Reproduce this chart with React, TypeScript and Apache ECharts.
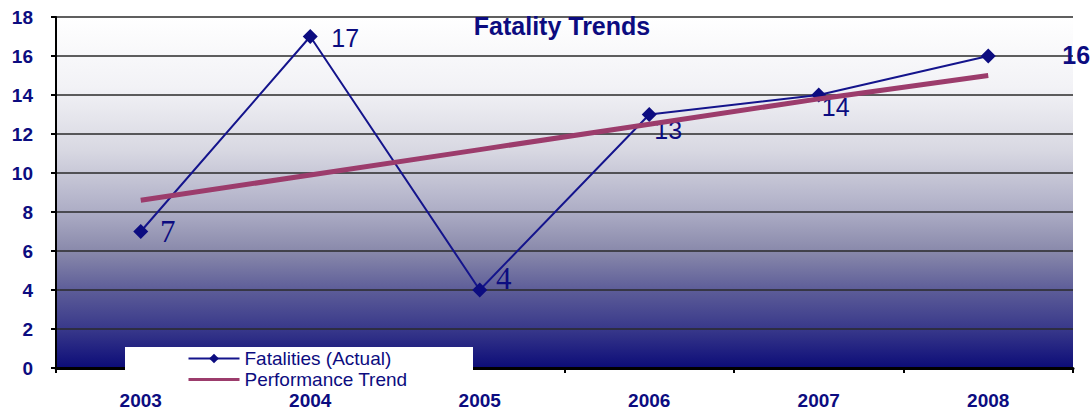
import React, { useEffect, useRef } from "react";
import * as echarts from "echarts";

const years = ["2003", "2004", "2005", "2006", "2007", "2008"];
const fatalities = [7, 17, 4, 13, 14, 16];
const trend = [8.6, 9.9, 11.2, 12.5, 13.8, 15.0];
const yTicks = { min: 0, max: 18, interval: 2 };
const titleText = "Fatality Trends";
const seriesNames = ["Fatalities (Actual)", "Performance Trend"];

const NAVY = "#0c0c80";

// label placement styles per point (offsets relative to the point)
const labelStyles = [
  { offset: [27, 0], fontFamily: "Liberation Serif", fontSize: 31, fontWeight: "normal" },
  { offset: [35, 1], fontFamily: "Liberation Sans", fontSize: 25, fontWeight: "normal" },
  { offset: [24, -12], fontFamily: "Liberation Serif", fontSize: 31, fontWeight: "normal" },
  { offset: [19, 15], fontFamily: "Liberation Sans", fontSize: 25, fontWeight: "normal" },
  { offset: [17, 12], fontFamily: "Liberation Sans", fontSize: 25, fontWeight: "normal" },
  { offset: [88, -1], fontFamily: "Liberation Sans", fontSize: 25, fontWeight: "bold" },
];

export default function App() {
  const ref = useRef<HTMLDivElement>(null);
  useEffect(() => {
    if (!ref.current) return;
    const chart = echarts.init(ref.current, null, { renderer: "svg" });
    chart.setOption({
      animation: false,
      backgroundColor: "#ffffff",
      title: {
        text: titleText,
        left: 557,
        textAlign: "center",
        top: 8,
        textStyle: {
          color: NAVY,
          fontFamily: "Liberation Sans",
          fontWeight: "bold",
          fontSize: 25,
        },
      },
      grid: {
        left: 56,
        right: 19,
        top: 17,
        bottom: 48,
        show: true,
        borderWidth: 0,
        backgroundColor: {
          type: "linear",
          x: 0,
          y: 0,
          x2: 0,
          y2: 1,
          colorStops: [
            { offset: 0, color: "#ffffff" },
            { offset: 0.2, color: "#f2f2f6" },
            { offset: 0.38, color: "#d8d8e2" },
            { offset: 0.55, color: "#aeaec6" },
            { offset: 0.67, color: "#8888aa" },
            { offset: 0.78, color: "#5c5c98" },
            { offset: 0.89, color: "#38388a" },
            { offset: 1, color: "#0c0c78" },
          ],
        },
      },
      legend: {
        orient: "vertical",
        left: 187,
        top: 348,
        padding: 0,
        itemGap: 0,
        itemWidth: 51,
        itemHeight: 12,
        z: 60,
        textStyle: {
          color: NAVY,
          fontFamily: "Liberation Sans",
          fontSize: 19,
          lineHeight: 21,
        },
        data: [
          { name: seriesNames[0] },
          { name: seriesNames[1], itemStyle: { opacity: 0 }, lineStyle: { width: 3, opacity: 1 } },
        ],
      },
      graphic: [
        {
          type: "rect",
          z: 50,
          shape: { x: 125, y: 347, width: 348, height: 28 },
          style: { fill: "#ffffff" },
        },
      ],
      xAxis: {
        type: "category",
        data: years,
        boundaryGap: true,
        axisLine: { show: true, lineStyle: { color: "#000000", width: 3 } },
        axisTick: { show: true, length: 5, lineStyle: { color: "#000000", width: 2 } },
        axisLabel: {
          margin: 23,
          color: NAVY,
          fontFamily: "Liberation Sans",
          fontWeight: "bold",
          fontSize: 19,
        },
        splitLine: { show: false },
      },
      yAxis: {
        type: "value",
        min: yTicks.min,
        max: yTicks.max,
        interval: yTicks.interval,
        axisLine: { show: true, lineStyle: { color: "#000000", width: 2 } },
        axisTick: { show: true, length: 5, lineStyle: { color: "#000000", width: 2 } },
        axisLabel: {
          margin: 23,
          color: NAVY,
          fontFamily: "Liberation Sans",
          fontWeight: "bold",
          fontSize: 19,
        },
        splitLine: { show: true, lineStyle: { color: "#2a2a2a", width: 1.5 } },
      },
      series: [
        {
          name: seriesNames[0],
          type: "line",
          data: fatalities.map((v, i) => ({
            value: v,
            label: {
              show: true,
              position: "inside",
              offset: labelStyles[i].offset,
              color: NAVY,
              fontFamily: labelStyles[i].fontFamily,
              fontSize: labelStyles[i].fontSize,
              fontWeight: labelStyles[i].fontWeight,
            },
          })),
          symbol: "diamond",
          symbolSize: 15,
          lineStyle: { color: "#14148c", width: 2 },
          itemStyle: { color: "#0c0c80" },
          z: 3,
        },
        {
          name: seriesNames[1],
          type: "line",
          data: trend,
          symbol: "none",
          showSymbol: false,
          lineStyle: { color: "#9c3c6c", width: 5 },
          itemStyle: { color: "#9c3c6c" },
          z: 4,
        },
      ],
    });
    return () => chart.dispose();
  }, []);
  return (
    <div
      ref={ref}
      style={{ position: "fixed", left: 0, top: 0, width: 1092, height: 416 }}
    />
  );
}
